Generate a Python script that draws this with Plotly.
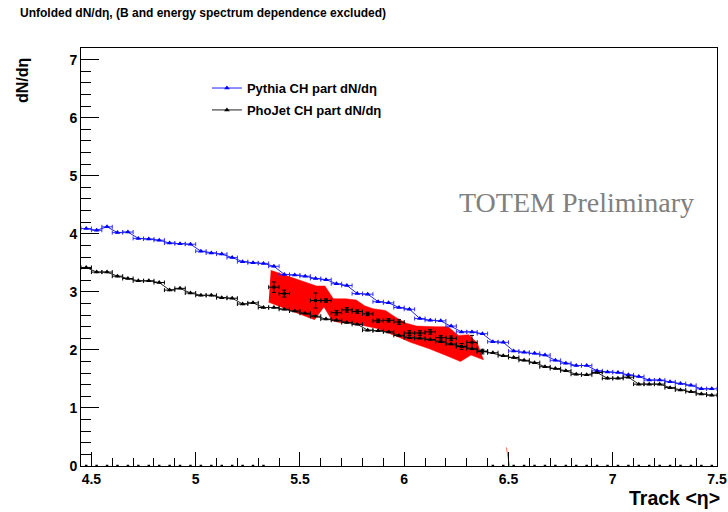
import plotly.graph_objects as go

# ---- data -------------------------------------------------------------
bin_centers = [4.475, 4.525, 4.575, 4.625, 4.675, 4.725, 4.775, 4.825, 4.875, 4.925,
               4.975, 5.025, 5.075, 5.125, 5.175, 5.225, 5.275, 5.325, 5.375, 5.425,
               5.475, 5.525, 5.575, 5.625, 5.675, 5.725, 5.775, 5.825, 5.875, 5.925,
               5.975, 6.025, 6.075, 6.125, 6.175, 6.225, 6.275, 6.325, 6.375, 6.425,
               6.475, 6.525, 6.575, 6.625, 6.675, 6.725, 6.775, 6.825, 6.875, 6.925,
               6.975, 7.025, 7.075, 7.125, 7.175, 7.225, 7.275, 7.325, 7.375, 7.425,
               7.475]
bin_half_width = 0.025

pythia = [4.09, 4.06, 4.12, 4.02, 4.03, 3.92, 3.91, 3.89, 3.84, 3.83,
          3.82, 3.70, 3.67, 3.65, 3.59, 3.52, 3.50, 3.49, 3.44, 3.30,
          3.29, 3.27, 3.23, 3.21, 3.14, 3.11, 2.97, 2.96, 2.83, 2.81,
          2.73, 2.70, 2.54, 2.51, 2.50, 2.41, 2.31, 2.31, 2.28, 2.14,
          2.13, 1.98, 1.96, 1.94, 1.91, 1.82, 1.77, 1.73, 1.73, 1.64,
          1.62, 1.61, 1.57, 1.54, 1.48, 1.48, 1.45, 1.42, 1.39, 1.33,
          1.33]

phojet = [3.42, 3.34, 3.34, 3.27, 3.23, 3.19, 3.19, 3.16, 3.03, 3.06,
          2.98, 2.94, 2.94, 2.90, 2.89, 2.79, 2.81, 2.73, 2.73, 2.70,
          2.67, 2.63, 2.58, 2.53, 2.51, 2.47, 2.44, 2.34, 2.33, 2.31,
          2.25, 2.21, 2.20, 2.18, 2.14, 2.10, 2.06, 2.02, 1.98, 1.95,
          1.90, 1.87, 1.82, 1.78, 1.71, 1.68, 1.64, 1.58, 1.57, 1.61,
          1.51, 1.51, 1.53, 1.41, 1.41, 1.41, 1.35, 1.31, 1.28, 1.24,
          1.22]
mc_err = 0.02

# unfolded data points (bin index, value, error)
data_bins = [18, 19, 22, 23, 24, 25, 26, 27, 28, 29, 30, 31, 32, 33, 34, 35, 36, 37, 38]
data_vals = [3.08, 2.97, 2.85, 2.85, 2.64, 2.69, 2.66, 2.62, 2.50, 2.51,
             2.48, 2.29, 2.29, 2.31, 2.21, 2.20, 2.06, 2.13, 1.97]
data_errs = [0.09, 0.06, 0.13, 0.03, 0.04, 0.04, 0.03, 0.03, 0.03, 0.03,
             0.04, 0.04, 0.04, 0.04, 0.04, 0.04, 0.05, 0.12, 0.04]
empty_bins = list(range(0, 18)) + list(range(39, 61))

# systematic band (upper edge left->right, lower edge left->right)
band_up_x = [5.36, 5.58, 5.62, 5.66, 5.72, 5.77, 5.81, 5.85, 5.91, 5.96, 6.01, 6.06, 6.15, 6.21, 6.26, 6.31, 6.35, 6.38]
band_up_y = [3.37, 3.10, 3.10, 2.88, 2.88, 2.86, 2.76, 2.71, 2.68, 2.56, 2.46, 2.41, 2.40, 2.40, 2.25, 2.26, 2.12, 1.85]
band_lo_x = [5.35, 5.57, 5.615, 5.655, 5.69, 5.75, 5.80, 5.87, 5.98, 6.03, 6.12, 6.21, 6.27, 6.32, 6.38]
band_lo_y = [2.82, 2.52, 2.74, 2.50, 2.47, 2.46, 2.42, 2.37, 2.21, 2.13, 2.02, 1.89, 1.80, 1.91, 1.83]

stray_x = [6.49, 6.505]
stray_y = [0.32, 0.0]

x_ticks = [4.5, 5, 5.5, 6, 6.5, 7, 7.5]
x_ticklabels = ["4.5", "5", "5.5", "6", "6.5", "7", "7.5"]
y_ticks = [0, 1, 2, 3, 4, 5, 6, 7]

# ---- figure -----------------------------------------------------------
fig = go.Figure()

band_x = band_up_x + band_lo_x[::-1]
band_y = band_up_y + band_lo_y[::-1]
fig.add_trace(go.Scatter(x=band_x, y=band_y, fill="toself", fillcolor="#ff0000",
                         line=dict(color="#ff0000", width=0.5), mode="lines",
                         showlegend=False, hoverinfo="skip"))
fig.add_trace(go.Scatter(x=stray_x, y=stray_y, mode="lines",
                         line=dict(color="rgba(255,0,0,0.6)", width=1),
                         showlegend=False, hoverinfo="skip"))

fig.add_trace(go.Scatter(
    x=bin_centers, y=pythia, mode="lines+markers", name="Pythia CH part dN/d\u03b7",
    legendgroup="py",
    line=dict(color="#2020ff", width=1),
    marker=dict(symbol="triangle-up", size=5, color="#0000ff"),
    error_x=dict(type="constant", value=bin_half_width, width=2, thickness=1, color="#3030ff"),
    error_y=dict(type="constant", value=mc_err, width=0, thickness=1, color="#3030ff")))

fig.add_trace(go.Scatter(
    x=bin_centers, y=phojet, mode="lines+markers", name="PhoJet CH part dN/d\u03b7",
    legendgroup="pj",
    line=dict(color="#202020", width=1),
    marker=dict(symbol="triangle-up", size=5, color="#000000"),
    error_x=dict(type="constant", value=bin_half_width, width=2, thickness=1, color="#000000"),
    error_y=dict(type="constant", value=mc_err, width=0, thickness=1, color="#000000")))

fig.add_trace(go.Scatter(
    x=[bin_centers[i] for i in data_bins], y=data_vals, mode="markers",
    marker=dict(symbol="square", size=3, color="#000000"),
    error_x=dict(type="constant", value=bin_half_width, width=2, thickness=1, color="#000000"),
    error_y=dict(type="data", array=data_errs, width=2, thickness=1, color="#000000"),
    showlegend=False, hoverinfo="skip"))

fig.add_trace(go.Scatter(
    x=[bin_centers[i] for i in empty_bins], y=[0] * len(empty_bins), mode="markers",
    marker=dict(symbol="square", size=2.5, color="#000000"),
    showlegend=False, hoverinfo="skip"))

bold = dict(family="Liberation Sans, Arial, sans-serif", color="black", weight="bold")

fig.update_layout(
    width=728, height=512,
    margin=dict(l=81, r=11, t=48, b=46, autoexpand=False),
    paper_bgcolor="white", plot_bgcolor="white",
    title=dict(text="Unfolded dN/d\u03b7, (B and energy spectrum dependence excluded)",
               x=20 / 728, xanchor="left", y=1 - 13 / 512, yanchor="middle",
               font=dict(size=12, **bold)),
    legend=dict(x=0.198, y=0.940, xanchor="left", yanchor="top",
                bgcolor="rgba(0,0,0,0)", font=dict(size=13, **bold),
                itemwidth=30, tracegroupgap=2),
    xaxis=dict(range=[4.45, 7.5], tickvals=x_ticks, ticktext=x_ticklabels,
               automargin=False,
               showgrid=False, zeroline=False, showline=True, linecolor="black",
               linewidth=1, mirror=True, ticks="inside", ticklen=14, tickcolor="black",
               tickfont=dict(size=14, **bold),
               minor=dict(dtick=0.1, tick0=4.5, ticks="inside", ticklen=8, tickcolor="black")),
    yaxis=dict(range=[0, 7.2], tickvals=y_ticks,
               automargin=False,
               showgrid=False, zeroline=False, showline=True, linecolor="black",
               linewidth=1, mirror=True, ticks="inside", ticklen=18, tickcolor="black",
               tickfont=dict(size=14, **bold),
               minor=dict(dtick=0.2, tick0=0, ticks="inside", ticklen=10, tickcolor="black")),
    annotations=[
        dict(text="Track <\u03b7>", xref="paper", yref="paper",
             x=1 + 5 / 636, y=-32 / 418, xanchor="right", yanchor="middle",
             showarrow=False, font=dict(size=19.5, **bold)),
        dict(text="dN/d\u03b7", xref="paper", yref="paper",
             x=-59 / 636, y=1 - 33 / 418, xanchor="center", yanchor="middle",
             textangle=-90, showarrow=False, font=dict(size=16, **bold)),
        dict(text="TOTEM Preliminary", x=6.825, y=4.54, xref="x", yref="y",
             showarrow=False, xanchor="center", yanchor="middle",
             font=dict(family="Liberation Serif, Times New Roman, serif", size=28, color="#808080")),
    ],
)

fig.write_html("out.html", config={"displayModeBar": False},
               post_script="document.body.style.margin='0px';document.body.style.overflow='hidden';")
